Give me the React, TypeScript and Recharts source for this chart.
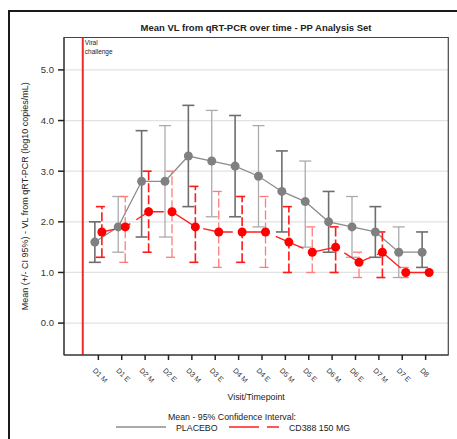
import React from 'react';
import {
  ComposedChart,
  Line,
  XAxis,
  YAxis,
  CartesianGrid,
  ErrorBar,
  ReferenceLine,
  ReferenceArea,
} from 'recharts';

// Visit/timepoint categories (M = morning, E = evening)
const timepoints = ['D1 M', 'D1 E', 'D2 M', 'D2 E', 'D3 M', 'D3 E', 'D4 M', 'D4 E', 'D5 M', 'D5 E', 'D6 M', 'D6 E', 'D7 M', 'D7 E', 'D8'];

// Placebo: mean log10 copies/mL and 95% CI bounds
const placeboMean = [1.6, 1.9, 2.8, 2.8, 3.3, 3.2, 3.1, 2.9, 2.6, 2.4, 2.0, 1.9, 1.8, 1.4, 1.4];
const placeboLow = [1.2, 1.4, 1.7, 1.7, 2.3, 2.1, 2.1, 1.9, 1.8, 1.5, 1.4, 1.3, 1.3, 0.9, 1.1];
const placeboHigh = [2.0, 2.5, 3.8, 3.9, 4.3, 4.2, 4.1, 3.9, 3.4, 3.2, 2.6, 2.5, 2.3, 1.9, 1.8];

// CD388 150 MG: mean log10 copies/mL and 95% CI bounds
const cd388Mean = [1.8, 1.9, 2.2, 2.2, 1.9, 1.8, 1.8, 1.8, 1.6, 1.4, 1.5, 1.2, 1.4, 1.0, 1.0];
const cd388Low: (number | null)[] = [1.3, 1.2, 1.4, 1.3, 1.2, 1.1, 1.2, 1.1, 1.0, 1.0, 1.0, 0.9, 0.9, 0.9, null];
const cd388High: (number | null)[] = [2.3, 2.5, 3.0, 3.0, 2.7, 2.6, 2.5, 2.5, 2.3, 1.9, 1.9, 1.4, 1.8, 1.1, null];

const yTicks = [0, 1, 2, 3, 4, 5];
const yDomain: [number, number] = [-0.63, 5.64];
const xDomain: [number, number] = [-0.47, 15.97];
const xTicks = timepoints.map((_, i) => i + 1);
// Position of the viral challenge marker on the visit axis
const challengePosition = 0.333;

const FONT = '"Liberation Sans", Arial, sans-serif';
const GROUP_SHIFT = 0.15;

type Row = { x: number; y: number; err?: [number, number] };

function buildRows(mean: number[], low: (number | null)[], high: (number | null)[], shift: number): Row[] {
  return mean.map((m, i) => {
    const lo = low[i];
    const hi = high[i];
    const row: Row = { x: i + 1 + shift, y: m };
    if (lo != null && hi != null) row.err = [m - lo, hi - m];
    return row;
  });
}

const placeboRows = buildRows(placeboMean, placeboLow, placeboHigh, -GROUP_SHIFT);
const cd388Rows = buildRows(cd388Mean, cd388Low, cd388High, GROUP_SHIFT);

// Morning visits (and D8) use the darker error-bar tone, evening visits the lighter one
const isEvening = (i: number) => timepoints[i].endsWith(' E');
const placeboDark = placeboRows.filter((r, i) => !isEvening(i) && r.err);
const placeboLight = placeboRows.filter((r, i) => isEvening(i) && r.err);
const cd388Dark = cd388Rows.filter((r, i) => !isEvening(i) && r.err);
const cd388Light = cd388Rows.filter((r, i) => isEvening(i) && r.err);

const XTick = (props: any) => {
  const { x, y, payload } = props;
  const bx = x - 6;
  const by = y + 9;
  return (
    <text
      x={bx}
      y={by}
      transform={`rotate(45 ${bx} ${by})`}
      textAnchor="start"
      fontSize={7.2}
      fontFamily={FONT}
      fill="#333"
    >
      {timepoints[payload.value - 1]}
    </text>
  );
};

const ChallengeLabel = (props: any) => {
  const { viewBox } = props;
  const x = viewBox.x + 2;
  const y = viewBox.y + 7;
  return (
    <text x={x} y={y} fontSize={6.5} fontFamily={FONT} fill="#222">
      <tspan x={x}>Viral</tspan>
      <tspan x={x} dy={9}>challenge</tspan>
    </text>
  );
};

const YLabel = (props: any) => {
  const { viewBox } = props;
  const cx = 25;
  const cy = viewBox.y + viewBox.height / 2;
  return (
    <text
      x={cx}
      y={cy}
      transform={`rotate(-90 ${cx} ${cy})`}
      textAnchor="middle"
      dominantBaseline="central"
      fontSize={9}
      fontFamily={FONT}
      fill="#222"
    >
      Mean (+/- CI 95%) - VL from qRT-PCR (log10 copies/mL)
    </text>
  );
};

const XLabel = (props: any) => {
  const { viewBox } = props;
  return (
    <text
      x={viewBox.x + viewBox.width / 2}
      y={400}
      textAnchor="middle"
      fontSize={8.8}
      fontFamily={FONT}
      fill="#222"
    >
      Visit/Timepoint
    </text>
  );
};

export default function App() {
  return (
    <div style={{ position: 'fixed', left: 0, top: 0, width: 457, height: 439, background: '#fff', overflow: 'hidden' }}>
      <div
        style={{
          position: 'absolute',
          left: 8,
          top: 10,
          width: 449,
          height: 429,
          boxSizing: 'border-box',
          borderTop: '2px solid #1a1a1a',
          borderLeft: '2px solid #1a1a1a',
        }}
      />
      <div style={{ position: 'absolute', left: 0, top: 0 }}>
        <ComposedChart
          width={457}
          height={439}
          margin={{ top: 37.5, right: 8.7, left: 0, bottom: 0 }}
        >
          <CartesianGrid vertical={false} stroke="#e2e2e2" strokeWidth={1.2} />
          <XAxis
            type="number"
            dataKey="x"
            domain={xDomain}
            ticks={xTicks}
            allowDataOverflow
            height={84}
            tickSize={5}
            tick={<XTick />}
            axisLine={{ stroke: '#333' }}
            tickLine={{ stroke: '#222', strokeWidth: 1.5 }}
            label={<XLabel />}
          />
          <YAxis
            type="number"
            dataKey="y"
            domain={yDomain}
            ticks={yTicks}
            allowDataOverflow
            width={64}
            tickSize={6}
            tickMargin={4}
            tickFormatter={(v: number) => v.toFixed(1)}
            tick={{ fontSize: 9.5, fontFamily: FONT, fill: '#333' }}
            axisLine={{ stroke: '#333' }}
            tickLine={{ stroke: '#222', strokeWidth: 1.5 }}
            label={<YLabel />}
          />
          <ReferenceArea
            x1={xDomain[0]}
            x2={xDomain[1]}
            y1={yDomain[0]}
            y2={yDomain[1]}
            fill="none"
            stroke="#444"
            strokeWidth={1.2}
            ifOverflow="visible"
          />
          <ReferenceLine
            x={challengePosition}
            stroke="#ee2a2a"
            strokeWidth={2}
            label={<ChallengeLabel />}
          />

          {/* Placebo confidence intervals */}
          <Line data={placeboDark} dataKey="y" stroke="none" dot={false} activeDot={false} isAnimationActive={false} legendType="none">
            <ErrorBar dataKey="err" direction="y" width={6} stroke="#6e6e6e" strokeWidth={1.6} />
          </Line>
          <Line data={placeboLight} dataKey="y" stroke="none" dot={false} activeDot={false} isAnimationActive={false} legendType="none">
            <ErrorBar dataKey="err" direction="y" width={6} stroke="#ababab" strokeWidth={1.3} />
          </Line>
          {/* Placebo means */}
          <Line
            data={placeboRows}
            dataKey="y"
            stroke="#8c8c8c"
            strokeWidth={1.3}
            dot={{ r: 4.5, fill: '#808080', stroke: 'none' }}
            activeDot={false}
            isAnimationActive={false}
          />

          {/* CD388 confidence intervals */}
          <Line data={cd388Dark} dataKey="y" stroke="none" dot={false} activeDot={false} isAnimationActive={false} legendType="none">
            <ErrorBar dataKey="err" direction="y" width={6} stroke="#ff1a1a" strokeWidth={1.6} strokeDasharray="9 3" />
          </Line>
          <Line data={cd388Light} dataKey="y" stroke="none" dot={false} activeDot={false} isAnimationActive={false} legendType="none">
            <ErrorBar dataKey="err" direction="y" width={6} stroke="#ff7b7b" strokeWidth={1.3} strokeDasharray="9 3" />
          </Line>
          {/* CD388 means */}
          <Line
            data={cd388Rows}
            dataKey="y"
            stroke="#ff2020"
            strokeWidth={1.4}
            strokeDasharray="30 7"
            dot={{ r: 4.5, fill: '#ff0000', stroke: 'none', strokeDasharray: '' }}
            activeDot={false}
            isAnimationActive={false}
          />
        </ComposedChart>
      </div>
      <svg
        width={457}
        height={439}
        style={{ position: 'absolute', left: 0, top: 0, pointerEvents: 'none' }}
      >
        <text x={256} y={30.5} textAnchor="middle" fontSize={9.5} fontWeight="bold" fontFamily={FONT} fill="#222">
          Mean VL from qRT-PCR over time - PP Analysis Set
        </text>
        <text x={232} y={419.5} textAnchor="middle" fontSize={8.8} fontFamily={FONT} fill="#222">
          Mean - 95% Confidence Interval:
        </text>
        <line x1={116} y1={427} x2={166} y2={427} stroke="#8c8c8c" strokeWidth={1.3} />
        <text x={176} y={430.5} fontSize={8.8} fontFamily={FONT} fill="#222">PLACEBO</text>
        <line x1={229} y1={427} x2={279} y2={427} stroke="#ff2020" strokeWidth={1.4} strokeDasharray="30 8" />
        <text x={289} y={430.5} fontSize={8.8} fontFamily={FONT} fill="#222">CD388 150 MG</text>
      </svg>
    </div>
  );
}
